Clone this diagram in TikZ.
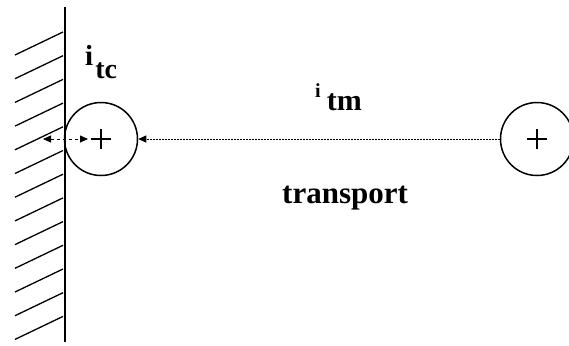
\documentclass[tikz,border=0pt]{standalone}
\usepackage{fontspec}
\setmainfont{Liberation Serif}
\usetikzlibrary{arrows.meta}

\begin{document}
\begin{tikzpicture}[
  x=1bp, y=-1bp,
  ion/.style={draw, circle, line width=1.5bp, minimum size=73bp, inner sep=0pt,
              path picture={
                \draw[line width=1.2bp] ([xshift=-10bp]path picture bounding box.center) -- ([xshift=10bp]path picture bounding box.center);
                \draw[line width=1.2bp] ([yshift=-10bp]path picture bounding box.center) -- ([yshift=10bp]path picture bounding box.center);
              }},
  wall/.style={line width=2bp},
  hatch/.style={line width=1.3bp},
  lbl/.style={font=\bfseries\fontsize{31bp}{33bp}\selectfont, inner sep=0pt, anchor=base west},
  arrow/.style={-{Triangle[length=8bp,width=7bp]}, line width=0.8bp}
]
\useasboundingbox (0,0) rectangle (569,345);

% Wall
\coordinate (walltop) at (65,7);
\coordinate (wallbot) at (65,342);
\draw[wall] (walltop) -- (wallbot);
\foreach \k in {0,...,12}
  \draw[hatch] (15,{55+23.7*\k}) -- (63,{32+23.7*\k});

% Ions
\node[ion] (ionc) at (101,139) {};
\node[ion] (ionm) at (537,139) {};

% Arrows
\coordinate (pushl) at (43,139);
\coordinate (pushr) at (88,139);
\draw[arrow, dashed, {Triangle[length=8bp,width=7bp]}-{Triangle[length=8bp,width=7bp]}] (pushl) -- (pushr);
\draw[arrow, dash pattern=on 1.5bp off 1.5bp] (ionm) -- (ionc);

% Labels
\node[lbl] (itc) at (85,65) {{\fontsize{29bp}{29bp}\selectfont i}\hspace{2bp}\raisebox{-13bp}{\fontsize{28bp}{28bp}\selectfont tc}};
\node[lbl] (itm) at (315,97) {{\fontsize{20bp}{20bp}\selectfont i}\hspace{6bp}\raisebox{-13bp}{\fontsize{30bp}{30bp}\selectfont tm}};
\node[lbl] (trans) at (282,203) {transport};

\end{tikzpicture}
\end{document}
